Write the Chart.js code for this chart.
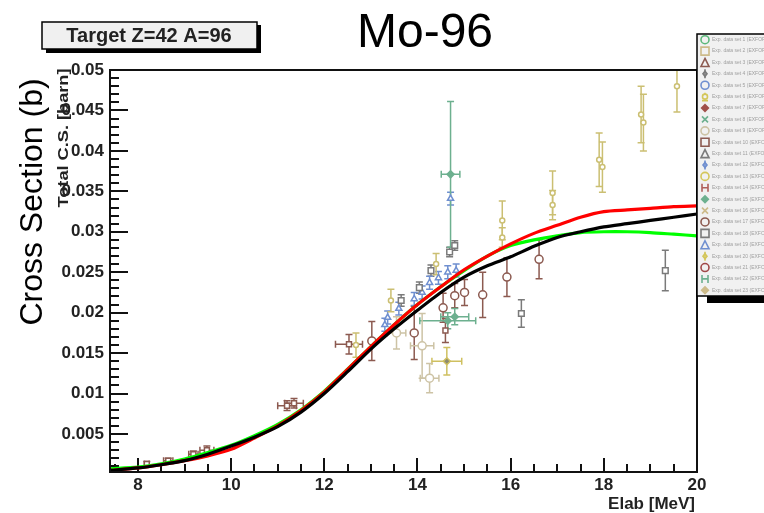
<!DOCTYPE html>
<html>
<head>
<meta charset="utf-8">
<script src="https://cdn.jsdelivr.net/npm/chart.js@4/dist/chart.umd.min.js"></script>
<style>
  html, body { margin: 0; padding: 0; background: #ffffff; }
  #wrap { width: 764px; height: 513px; position: relative; overflow: hidden; }
  #wrap canvas { position: absolute; left: 0; top: 0; }
</style>
</head>
<body>
<div id="wrap"><canvas id="c" width="764" height="513"></canvas></div>
<script>
// ---------------- data ----------------
const energies = [7.4, 8, 8.5, 9, 9.5, 10, 10.5, 11, 11.5, 12, 12.5, 13, 13.5, 14, 14.5, 15, 15.5, 16, 16.5, 17, 17.5, 18, 18.5, 19, 19.5, 20];
const curveBlack = [0.0005, 0.0008, 0.0012, 0.0017, 0.0025, 0.0035, 0.0046, 0.0059, 0.0077, 0.0100, 0.0127, 0.0155, 0.0180, 0.0203, 0.0225, 0.0244, 0.0258, 0.0269, 0.0282, 0.0293, 0.0300, 0.0306, 0.0310, 0.0314, 0.0318, 0.0322];
const curveRed   = [0.0005, 0.0008, 0.0012, 0.0017, 0.0023, 0.0031, 0.0045, 0.0060, 0.0079, 0.0102, 0.0130, 0.0158, 0.0185, 0.0210, 0.0232, 0.0253, 0.0270, 0.0285, 0.0298, 0.0308, 0.0318, 0.0325, 0.0327, 0.0329, 0.0331, 0.0332];
const curveGreen = [0.0007, 0.0009, 0.0013, 0.0019, 0.0027, 0.0036, 0.0048, 0.0062, 0.0080, 0.0103, 0.0130, 0.0158, 0.0185, 0.0210, 0.0232, 0.0252, 0.0270, 0.0283, 0.0290, 0.0295, 0.0299, 0.0300, 0.0300, 0.0299, 0.0297, 0.0295];

const brownCircleE   = [13.02, 13.93, 14.55, 14.8, 15.01, 15.4, 15.92, 16.61];
const brownCircleXS  = [0.0165, 0.0175, 0.0206, 0.0221, 0.0225, 0.0222, 0.0244, 0.0266];
const brownCircleDE  = [0, 0, 0, 0, 0, 0, 0, 0];
const brownCircleDXS = [0.0024, 0.0033, 0.0018, 0.0015, 0.0016, 0.0028, 0.0024, 0.0024];

const brownSquareE   = [8.19, 8.65, 9.19, 9.48, 11.2, 11.35, 12.53, 14.6];
const brownSquareXS  = [0.0013, 0.0017, 0.0025, 0.0030, 0.0085, 0.0088, 0.0161, 0.0178];
const brownSquareDE  = [0.05, 0.1, 0.1, 0.15, 0.2, 0.2, 0.29, 0];
const brownSquareDXS = [0.0003, 0.0003, 0.0004, 0.0005, 0.0006, 0.0006, 0.0012, 0.0015];

const grayE   = [13.65, 14.04, 14.29, 14.69, 14.8, 16.23, 19.32];
const grayXS  = [0.0215, 0.0231, 0.0252, 0.0275, 0.0283, 0.0199, 0.0252];
const grayDE  = [0, 0, 0, 0, 0, 0, 0];
const grayDXS = [0.0007, 0.0007, 0.0007, 0.0006, 0.0006, 0.0017, 0.0025];

const blueE   = [13.3, 13.36, 13.6, 13.93, 14.1, 14.26, 14.45, 14.65, 14.83, 14.71];
const blueXS  = [0.0185, 0.0194, 0.0205, 0.0217, 0.0225, 0.0237, 0.0243, 0.0250, 0.0252, 0.0341];
const blueDE  = [0, 0, 0, 0, 0, 0, 0, 0, 0, 0];
const blueDXS = [0.0008, 0.0008, 0.0008, 0.0008, 0.0008, 0.0008, 0.0008, 0.0008, 0.0008, 0.0008];

const tealE   = [14.71, 14.65, 14.8];
const tealXS  = [0.0371, 0.0190, 0.0195];
const tealDE  = [0.2, 0.6, 0.3];
const tealDXS = [0.009, 0.001, 0.001];

const khakiE   = [12.68, 13.43, 14.4, 15.82, 15.82, 16.9, 16.9, 17.9, 17.97, 18.8, 18.85, 19.57];
const khakiXS  = [0.0160, 0.0215, 0.0260, 0.0314, 0.0293, 0.0348, 0.0333, 0.0389, 0.0380, 0.0445, 0.0435, 0.0480];
const khakiDE  = [0, 0, 0, 0, 0, 0, 0, 0, 0, 0, 0, 0];
const khakiDXS = [0.0015, 0.0014, 0.0013, 0.0024, 0.0012, 0.0027, 0.0018, 0.0033, 0.0031, 0.0035, 0.0035, 0.0032];

const oliveE   = [14.63];
const oliveXS  = [0.0140];
const oliveDE  = [0.32];
const oliveDXS = [0.0017];

const beigeE   = [13.55, 14.1, 14.26];
const beigeXS  = [0.0175, 0.0159, 0.0119];
const beigeDE  = [0.2, 0.25, 0.2];
const beigeDXS = [0.002, 0.004, 0.0018];

const xTickValues = [8, 10, 12, 14, 16, 18, 20];
const xTickLabels = ['8', '10', '12', '14', '16', '18', '20'];
const xMinorTickValues = [7.5, 8.5, 9, 9.5, 10.5, 11, 11.5, 12.5, 13, 13.5, 14.5, 15, 15.5, 16.5, 17, 17.5, 18.5, 19, 19.5];
const yTickValues = [0.005, 0.01, 0.015, 0.02, 0.025, 0.03, 0.035, 0.04, 0.045, 0.05];
const yTickLabels = ['0.005', '0.01', '0.015', '0.02', '0.025', '0.03', '0.035', '0.04', '0.045', '0.05'];
const yMinorTickValues = [0.001, 0.002, 0.003, 0.004, 0.006, 0.007, 0.008, 0.009, 0.011, 0.012, 0.013, 0.014,
  0.016, 0.017, 0.018, 0.019, 0.021, 0.022, 0.023, 0.024, 0.026, 0.027, 0.028, 0.029, 0.031, 0.032, 0.033, 0.034,
  0.036, 0.037, 0.038, 0.039, 0.041, 0.042, 0.043, 0.044, 0.046, 0.047, 0.048, 0.049];

const chartTitle = 'Mo-96';
const targetLabel = 'Target Z=42 A=96';
const yTitleBig = 'Cross Section (b)';
const yTitleSmall = 'Total C.S. [barn]';
const xTitle = 'Elab [MeV]';

const legendLabels = [
  'Exp. data set 1 (EXFOR)', 'Exp. data set 2 (EXFOR)', 'Exp. data set 3 (EXFOR)', 'Exp. data set 4 (EXFOR)',
  'Exp. data set 5 (EXFOR)', 'Exp. data set 6 (EXFOR)', 'Exp. data set 7 (EXFOR)', 'Exp. data set 8 (EXFOR)',
  'Exp. data set 9 (EXFOR)', 'Exp. data set 10 (EXFOR)', 'Exp. data set 11 (EXFOR)', 'Exp. data set 12 (EXFOR)',
  'Exp. data set 13 (EXFOR)', 'Exp. data set 14 (EXFOR)', 'Exp. data set 15 (EXFOR)', 'Exp. data set 16 (EXFOR)',
  'Exp. data set 17 (EXFOR)', 'Exp. data set 18 (EXFOR)', 'Exp. data set 19 (EXFOR)', 'Exp. data set 20 (EXFOR)',
  'Exp. data set 21 (EXFOR)', 'Exp. data set 22 (EXFOR)', 'Exp. data set 23 (EXFOR)'
];
const legendColors = ['#5cb87a', '#cdbb8a', '#8c5a50', '#7a7a7a', '#6f8fd0', '#d4c65a', '#a0504a', '#6db08f',
  '#cdc3a5', '#8c5a50', '#7a7a7a', '#6f8fd0', '#d4c65a', '#b0605a', '#6db08f', '#cdbb8a',
  '#8c5a50', '#7a7a7a', '#6f8fd0', '#d4c65a', '#a04848', '#6db08f', '#cdbb8a'];
const legendMarkers = ['circle', 'rect', 'triangle', 'diamondSmall', 'circle', 'star', 'diamondFill', 'x',
  'circle', 'rect', 'triangle', 'diamondSmall', 'circle', 'cross', 'diamondFill', 'x',
  'circle', 'rect', 'triangle', 'diamondSmall', 'circle', 'cross', 'diamondFill'];

// ---------------- helpers ----------------
const FONT = "'Liberation Sans', Arial, Helvetica, sans-serif";
function pts(xs, ys) { return xs.map((x, i) => ({ x: x, y: ys[i] })); }

function pointSet(label, xs, ys, dxs, dys, color, style, radius, fill) {
  return {
    label: label,
    data: pts(xs, ys),
    xAxisID: 'x', yAxisID: 'y',
    errX: dxs, errY: dys,
    showLine: false,
    pointStyle: style,
    pointRadius: radius,
    pointBorderWidth: 1.5,
    borderColor: color,
    pointBorderColor: color,
    pointBackgroundColor: fill,
    backgroundColor: fill,
    order: 10
  };
}
function curveSet(label, ys, color, order) {
  return {
    label: label,
    data: pts(energies, ys),
    xAxisID: 'x', yAxisID: 'y',
    showLine: true,
    borderColor: color,
    backgroundColor: color,
    borderWidth: 3.2,
    pointRadius: 0,
    tension: 0.25,
    order: order
  };
}

function drawMarker(ctx, type, x, y, color) {
  ctx.save();
  ctx.strokeStyle = color;
  ctx.fillStyle = color;
  ctx.lineWidth = 1.6;
  ctx.beginPath();
  const r = 4;
  if (type === 'circle') {
    ctx.arc(x, y, r, 0, Math.PI * 2); ctx.stroke();
  } else if (type === 'rect') {
    ctx.rect(x - r, y - r, 2 * r, 2 * r); ctx.stroke();
  } else if (type === 'triangle') {
    ctx.moveTo(x, y - r); ctx.lineTo(x + r, y + r); ctx.lineTo(x - r, y + r); ctx.closePath(); ctx.stroke();
  } else if (type === 'diamondSmall') {
    ctx.moveTo(x, y - 2.5); ctx.lineTo(x + 2, y); ctx.lineTo(x, y + 2.5); ctx.lineTo(x - 2, y); ctx.closePath(); ctx.stroke();
    ctx.beginPath(); ctx.moveTo(x, y - 4.5); ctx.lineTo(x, y + 4.5); ctx.stroke();
  } else if (type === 'diamondFill') {
    ctx.moveTo(x, y - 4.5); ctx.lineTo(x + 4.5, y); ctx.lineTo(x, y + 4.5); ctx.lineTo(x - 4.5, y); ctx.closePath(); ctx.fill();
  } else if (type === 'x') {
    ctx.moveTo(x - 3, y - 3); ctx.lineTo(x + 3, y + 3); ctx.moveTo(x + 3, y - 3); ctx.lineTo(x - 3, y + 3); ctx.stroke();
  } else if (type === 'cross') {
    ctx.moveTo(x - 3, y - 4); ctx.lineTo(x - 3, y + 4); ctx.moveTo(x + 3, y - 4); ctx.lineTo(x + 3, y + 4);
    ctx.moveTo(x - 3, y); ctx.lineTo(x + 3, y); ctx.stroke();
  } else if (type === 'star') {
    ctx.arc(x, y, 2.5, 0, Math.PI * 2); ctx.stroke();
    ctx.beginPath(); ctx.moveTo(x - 3, y + 4); ctx.lineTo(x + 3, y + 4); ctx.moveTo(x, y - 4); ctx.lineTo(x, y - 2.5); ctx.stroke();
  }
  ctx.restore();
}

// error bars (under the markers and curves)
const errorBarPlugin = {
  id: 'errorBars',
  beforeDatasetsDraw(chart) {
    const ctx = chart.ctx;
    const xs = chart.scales.x, ys = chart.scales.y;
    const a = chart.chartArea;
    ctx.save();
    ctx.beginPath();
    ctx.rect(a.left, a.top, a.right - a.left, a.bottom - a.top);
    ctx.clip();
    chart.data.datasets.forEach(ds => {
      if (!ds.errY) return;
      ctx.strokeStyle = ds.borderColor;
      ctx.lineWidth = 1.5;
      ds.data.forEach((p, i) => {
        const px = xs.getPixelForValue(p.x), py = ys.getPixelForValue(p.y);
        const dy = ds.errY[i] || 0, dx = ds.errX[i] || 0;
        ctx.beginPath();
        if (dy > 0) {
          const y1 = ys.getPixelForValue(p.y + dy), y2 = ys.getPixelForValue(p.y - dy);
          ctx.moveTo(px, y1); ctx.lineTo(px, y2);
          ctx.moveTo(px - 3.5, y1); ctx.lineTo(px + 3.5, y1);
          ctx.moveTo(px - 3.5, y2); ctx.lineTo(px + 3.5, y2);
        }
        if (dx > 0) {
          const x1 = xs.getPixelForValue(p.x - dx), x2 = xs.getPixelForValue(p.x + dx);
          ctx.moveTo(x1, py); ctx.lineTo(x2, py);
          ctx.moveTo(x1, py - 3.5); ctx.lineTo(x1, py + 3.5);
          ctx.moveTo(x2, py - 3.5); ctx.lineTo(x2, py + 3.5);
        }
        ctx.stroke();
      });
    });
    ctx.restore();
  }
};

// frame, titles, legend box
const decorPlugin = {
  id: 'decor',
  afterDraw(chart) {
    const ctx = chart.ctx;
    const a = chart.chartArea;
    ctx.save();
    // frame
    ctx.lineWidth = 2;
    ctx.strokeStyle = '#111';
    ctx.strokeRect(a.left, a.top, a.right - a.left, a.bottom - a.top);

    // main title
    ctx.fillStyle = '#000';
    ctx.font = '48px ' + FONT;
    ctx.textAlign = 'center';
    ctx.textBaseline = 'alphabetic';
    ctx.fillText(chartTitle, 425, 47);

    // target box
    ctx.fillStyle = '#000';
    ctx.fillRect(46, 25, 215, 28);
    ctx.fillStyle = '#f0f0f0';
    ctx.fillRect(42, 22, 215, 27);
    ctx.lineWidth = 1.5;
    ctx.strokeStyle = '#000';
    ctx.strokeRect(42, 22, 215, 27);
    ctx.fillStyle = '#222';
    ctx.font = 'bold 20px ' + FONT;
    ctx.textAlign = 'center';
    ctx.fillText(targetLabel, 149, 42);

    // big y title
    ctx.save();
    ctx.translate(42, 202);
    ctx.rotate(-Math.PI / 2);
    ctx.fillStyle = '#000';
    ctx.font = '32px ' + FONT;
    ctx.textAlign = 'center';
    ctx.fillText(yTitleBig, 0, 0);
    ctx.restore();

    // small y title (stretched as in ROOT)
    ctx.save();
    ctx.translate(68, 138);
    ctx.rotate(-Math.PI / 2);
    ctx.fillStyle = '#222';
    ctx.font = 'bold 14px ' + FONT;
    const w = ctx.measureText(yTitleSmall).width;
    ctx.scale(139 / w, 1);
    ctx.textAlign = 'center';
    ctx.fillText(yTitleSmall, 0, 0);
    ctx.restore();

    // x title
    ctx.fillStyle = '#222';
    ctx.font = 'bold 17px ' + FONT;
    ctx.textAlign = 'right';
    ctx.fillText(xTitle, 695, 509);

    // legend box
    const lx = 697, ly = 34, lw = 80, lh = 262;
    ctx.fillStyle = '#000';
    ctx.fillRect(lx + 10, ly + lh, lw, 7);
    ctx.fillStyle = '#f1f1f1';
    ctx.fillRect(lx, ly, lw, lh);
    ctx.lineWidth = 1.5;
    ctx.strokeStyle = '#000';
    ctx.strokeRect(lx, ly, lw, lh);
    const step = lh / legendLabels.length;
    ctx.font = '5px ' + FONT;
    ctx.textAlign = 'left';
    ctx.textBaseline = 'middle';
    legendLabels.forEach((t, i) => {
      const yy = ly + step * (i + 0.5);
      drawMarker(ctx, legendMarkers[i], lx + 8, yy, legendColors[i]);
      ctx.fillStyle = '#a0a0a0';
      ctx.fillText(t, lx + 15, yy);
    });
    ctx.restore();
  }
};

// inward-pointing tick marks drawn by Chart.js itself (negative tick length)
function innerGrid(len) {
  return { display: true, drawOnChartArea: false, drawTicks: true, tickLength: -len, tickWidth: 2, tickColor: '#111', color: '#111', lineWidth: 2 };
}

// ---------------- chart ----------------
const datasets = [
  curveSet('Model (black)', curveBlack, '#000000', 0),
  curveSet('Model (red)', curveRed, '#ff0000', 1),
  curveSet('Model (green)', curveGreen, '#00ff00', 2),
  pointSet('Exp. brown circles', brownCircleE, brownCircleXS, brownCircleDE, brownCircleDXS, '#8c5a50', 'circle', 4, '#ffffff'),
  pointSet('Exp. brown squares', brownSquareE, brownSquareXS, brownSquareDE, brownSquareDXS, '#8c5a50', 'rect', 3.5, '#ffffff'),
  pointSet('Exp. gray', grayE, grayXS, grayDE, grayDXS, '#7a7a7a', 'rect', 4, '#ffffff'),
  pointSet('Exp. blue', blueE, blueXS, blueDE, blueDXS, '#6f8fd0', 'triangle', 3.5, '#ffffff'),
  pointSet('Exp. teal', tealE, tealXS, tealDE, tealDXS, '#6db08f', 'rectRot', 3.5, '#6db08f'),
  pointSet('Exp. khaki', khakiE, khakiXS, khakiDE, khakiDXS, '#cbbf72', 'circle', 2.5, '#ffffff'),
  pointSet('Exp. olive', oliveE, oliveXS, oliveDE, oliveDXS, '#cfc060', 'rectRot', 3.5, '#8d8a70'),
  pointSet('Exp. beige', beigeE, beigeXS, beigeDE, beigeDXS, '#cdc3a5', 'circle', 4, '#ffffff')
];

const chart = new Chart(document.getElementById('c'), {
  type: 'scatter',
  data: { datasets: datasets },
  options: {
    responsive: false,
    animation: false,
    devicePixelRatio: 1,
    layout: { padding: { left: 0, right: 67, top: 70, bottom: 0 } },
    plugins: { legend: { display: false }, tooltip: { enabled: false }, title: { display: false } },
    scales: {
      x: {
        type: 'linear', axis: 'x', position: 'bottom', weight: 1, min: 7.4, max: 20,
        grid: innerGrid(14),
        border: { display: false },
        afterBuildTicks: s => { s.ticks = xTickValues.map(v => ({ value: v })); },
        afterFit: s => { s.height = 41; },
        ticks: {
          padding: 17,
          color: '#222',
          font: { family: FONT, size: 17, weight: 'bold' },
          maxRotation: 0,
          autoSkip: false,
          callback: (v, i) => xTickLabels[i]
        }
      },
      xMinor: {
        type: 'linear', axis: 'x', position: 'bottom', weight: -1, min: 7.4, max: 20,
        grid: innerGrid(8),
        border: { display: false },
        afterBuildTicks: s => { s.ticks = xMinorTickValues.map(v => ({ value: v })); },
        afterFit: s => { s.height = 0; },
        ticks: { display: false, autoSkip: false }
      },
      y: {
        type: 'linear', axis: 'y', position: 'left', weight: 1, min: 0.0003, max: 0.05,
        grid: innerGrid(18),
        border: { display: false },
        afterBuildTicks: s => { s.ticks = yTickValues.map(v => ({ value: v })); },
        afterFit: s => { s.width = 110; },
        ticks: {
          padding: 24,
          color: '#222',
          font: { family: FONT, size: 17, weight: 'bold' },
          autoSkip: false,
          callback: (v, i) => yTickLabels[i]
        }
      },
      yMinor: {
        type: 'linear', axis: 'y', position: 'left', weight: -1, min: 0.0003, max: 0.05,
        grid: innerGrid(9),
        border: { display: false },
        afterBuildTicks: s => { s.ticks = yMinorTickValues.map(v => ({ value: v })); },
        afterFit: s => { s.width = 0; },
        ticks: { display: false, autoSkip: false }
      }
    }
  },
  plugins: [errorBarPlugin, decorPlugin]
});
</script>
</body>
</html>
